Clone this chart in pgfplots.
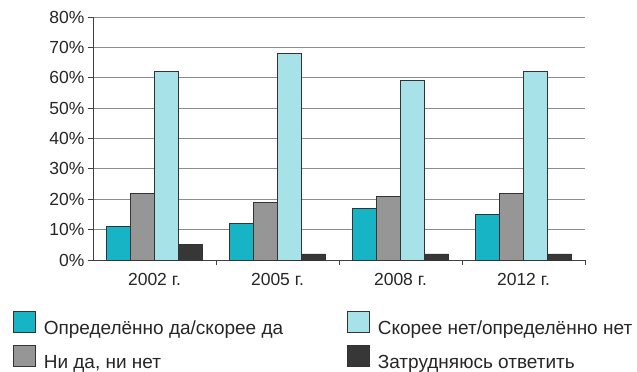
\documentclass[border=0pt]{standalone}
\usepackage{fontspec}
\setmainfont{Liberation Sans}
\usepackage{pgfplots}
\pgfplotsset{compat=1.18}
\definecolor{cA}{RGB}{22,180,196}
\definecolor{cB}{RGB}{150,150,150}
\definecolor{cC}{RGB}{168,226,233}
\definecolor{cD}{RGB}{55,55,55}
\begin{document}
\begin{tikzpicture}[x=1pt,y=1pt]
\path[use as bounding box] (0,0) rectangle (637,372);
\begin{axis}[
  at={(93pt,112pt)}, anchor=south west,
  scale only axis, width=492pt, height=243pt,
  ybar=0pt, bar width=24pt,
  xmin=-0.5, xmax=3.5, ymin=0, ymax=80,
  ytick={0,10,...,80},
  yticklabel={\pgfmathprintnumber{\tick}\%},
  xtick={0.5,1.5,2.5,3.5}, xticklabels={},
  extra x ticks={0,1,2,3},
  extra x tick labels={2002 г.,2005 г.,2008 г.,2012 г.},
  extra x tick style={major tick length=0pt},
  ymajorgrids, grid style={black!45, line width=0.8pt},
  axis x line*=bottom, axis y line*=left,
  axis line style={-, line width=1pt, black!75},
  tick align=outside,
  major tick length=5pt,
  tick style={black!75, line width=0.9pt},
  ticklabel style={font=\fontsize{17.5}{19}\selectfont, text=black!85},
  /pgf/number format/assume math mode=true,
  xticklabel style={yshift=-10pt},
  legend columns=2,
  transpose legend,
  legend cell align=left,
  legend style={at={(axis description cs:0,0)}, anchor=north west,
    xshift=-80pt, yshift=-51pt, draw=none, fill=none, inner sep=0pt,
    font=\fontsize{19}{21}\selectfont, text=black!85,
    row sep=7pt,
    /tikz/every odd column/.append style={column sep=6pt},
    /tikz/every even column/.append style={column sep=62pt}},
  legend image code/.code={\draw[#1, line width=0.6pt] (0pt,-4pt) rectangle (22pt,17pt);},
  every axis plot/.append style={draw=black!80, line width=0.8pt},
]
\addplot[fill=cA] coordinates {(0,11) (1,12) (2,17) (3,15)};
\addplot[fill=cB] coordinates {(0,22) (1,19) (2,21) (3,22)};
\addplot[fill=cC] coordinates {(0,62) (1,68) (2,59) (3,62)};
\addplot[fill=cD] coordinates {(0,5) (1,2) (2,2) (3,2)};
\legend{Определённо да/скорее да, {Ни да, ни нет}, Скорее нет/определённо нет, Затрудняюсь ответить}
\end{axis}
\end{tikzpicture}
\end{document}
